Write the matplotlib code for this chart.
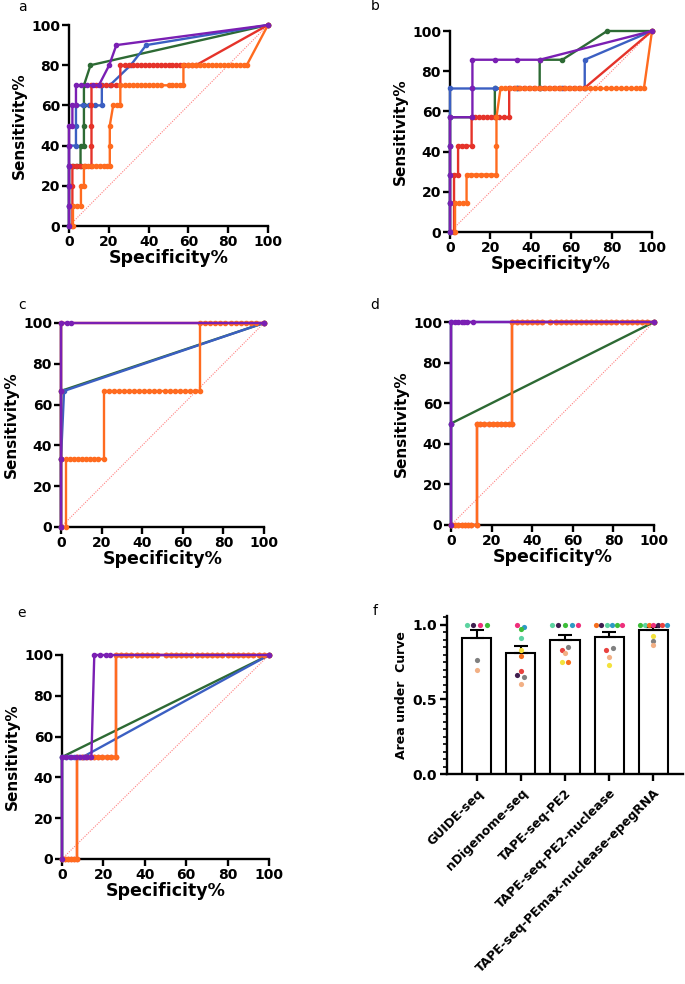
import numpy as np
import matplotlib.pyplot as plt
from matplotlib.ticker import MultipleLocator, FormatStrFormatter

plt.rcParams['font.family'] = ['DejaVu Sans']
plt.rcParams['font.weight'] = 'bold'

# ROC points (specificity %, sensitivity %)
a_green = [(0, 0), (0, 10), (0, 20), (0, 30), (2, 30), (4, 30), (5.8, 30), (5.8, 40), (7.5, 40),
           (7.5, 50), (7.5, 60), (7.5, 70), (10.8, 80), (100, 100)]
a_blue = [(0, 0), (0, 10), (0, 20), (0, 30), (0, 40), (3.5, 40), (3.5, 50), (3.5, 60), (7, 60), (10, 60),
          (13, 60), (16.5, 60), (16.5, 70), (20.5, 70), (31, 80), (38.8, 90), (100, 100)]
a_red = [(1.7, 0), (1.7, 10), (1.7, 20), (1.7, 30), (3.5, 30), (5.5, 30), (8, 30), (11.3, 30), (11.3, 40),
         (11.3, 50), (11.3, 60), (11.3, 70), (13.5, 70), (16, 70), (18.5, 70), (21, 70), (23.5, 70),
         (25.8, 70), (25.8, 80), (28, 80), (30, 80), (32, 80), (34, 80), (36, 80), (38, 80), (40, 80),
         (42, 80), (44, 80), (46, 80), (48, 80), (50, 80), (52, 80), (54, 80), (56, 80), (58, 80),
         (60, 80), (62, 80), (63.8, 80), (100, 100)]
a_orange = [(2, 0), (2, 10), (4, 10), (6, 10), (6, 20), (7.5, 20), (7.5, 30), (9.5, 30), (11.5, 30),
            (13.5, 30), (15.5, 30), (17.5, 30), (19, 30), (20.5, 30), (20.5, 40), (20.5, 50), (22.2, 60),
            (24, 60), (25.8, 60), (25.8, 70), (28, 70), (30, 70), (32, 70), (34, 70), (36, 70), (38, 70),
            (40, 70), (42, 70), (44, 70), (46, 70), (50, 70), (52, 70), (54, 70), (56, 70), (57.5, 70),
            (57.5, 80), (60, 80), (62, 80), (64, 80), (66, 80), (68, 80), (70, 80), (72, 80), (74, 80),
            (76, 80), (78, 80), (80, 80), (82, 80), (84, 80), (86, 80), (88, 80), (89.3, 80), (100, 100)]
a_purple = [(0, 0), (0, 10), (0, 20), (0, 30), (0, 40), (0, 50), (1.7, 50), (1.7, 60), (3.5, 60),
            (3.5, 70), (6, 70), (9, 70), (12, 70), (15, 70), (20.2, 80), (23.8, 90), (100, 100)]

b_green = [(0, 0), (0, 14.3), (0, 28.6), (0, 42.9), (0, 57.1), (11.1, 57.1), (22.2, 57.1), (22.2, 71.4),
           (33.3, 71.4), (44.4, 71.4), (44.4, 85.7), (55.6, 85.7), (77.8, 100), (100, 100)]
b_blue = [(0, 0), (0, 14.3), (0, 28.6), (0, 42.9), (0, 57.1), (0, 71.4), (11.1, 71.4), (22.2, 71.4),
          (33.3, 71.4), (44.4, 71.4), (55.6, 71.4), (66.7, 71.4), (66.7, 85.7), (100, 100)]
b_red = [(2, 0), (2, 14.3), (2, 28.6), (4, 28.6), (4, 42.9), (6, 42.9), (8, 42.9), (10.7, 42.9),
         (10.7, 57.1), (12.5, 57.1), (14.5, 57.1), (16.5, 57.1), (18.5, 57.1), (20.5, 57.1), (22.5, 57.1),
         (24.5, 57.1), (26.5, 57.1), (29.3, 57.1), (29.3, 71.4), (31.5, 71.4), (34, 71.4), (36.5, 71.4),
         (39, 71.4), (41.5, 71.4), (44, 71.4), (46.5, 71.4), (49, 71.4), (51.5, 71.4), (54, 71.4),
         (56.5, 71.4), (59, 71.4), (61.5, 71.4), (64, 71.4), (66.3, 71.4), (100, 100)]
b_orange = [(2.5, 0), (2.5, 14.3), (4.5, 14.3), (6.5, 14.3), (8.2, 14.3), (8.2, 28.6), (10.5, 28.6),
            (13, 28.6), (15.5, 28.6), (18, 28.6), (20.5, 28.6), (23, 28.6), (23, 42.9), (23, 57.1),
            (25, 71.4), (27, 71.4), (29.5, 71.4), (32, 71.4), (34.5, 71.4), (37, 71.4), (39.5, 71.4),
            (42, 71.4), (44.5, 71.4), (47, 71.4), (49.5, 71.4), (52, 71.4), (54.5, 71.4), (57, 71.4),
            (59.5, 71.4), (62, 71.4), (64.5, 71.4), (67, 71.4), (69.5, 71.4), (72, 71.4), (74.5, 71.4),
            (77, 71.4), (79.5, 71.4), (82, 71.4), (84.5, 71.4), (87, 71.4), (89.5, 71.4), (92, 71.4),
            (94, 71.4), (96, 71.4), (100, 100)]
b_purple = [(0, 0), (0, 14.3), (0, 28.6), (0, 42.9), (0, 57.1), (11.1, 57.1), (11.1, 71.4), (11.1, 85.7),
            (22.2, 85.7), (33.3, 85.7), (44.4, 85.7), (100, 100)]

c_green = [(0, 0), (0, 33.3), (0, 66.7), (100, 100)]
c_blue = [(0, 0), (0, 33.3), (1.5, 66.7), (100, 100)]
c_red = [(0, 0), (0, 33.3), (0, 66.7), (0, 100), (100, 100)]
c_orange = [(2.3, 0), (2.3, 33.3), (4.3, 33.3), (6.3, 33.3), (8.3, 33.3), (10.3, 33.3), (12.3, 33.3),
            (14.3, 33.3), (16.3, 33.3), (18.3, 33.3), (21.3, 33.3), (21.3, 66.7), (23.5, 66.7), (26, 66.7),
            (28.5, 66.7), (31, 66.7), (33.5, 66.7), (36, 66.7), (38.5, 66.7), (41, 66.7), (43.5, 66.7),
            (46, 66.7), (48.5, 66.7), (51, 66.7), (53.5, 66.7), (56, 66.7), (58.5, 66.7), (61, 66.7),
            (63.5, 66.7), (66, 66.7), (68.4, 66.7), (68.4, 100), (71, 100), (73.5, 100), (76, 100),
            (78.5, 100), (81, 100), (83.5, 100), (86, 100), (88.5, 100), (91, 100), (93.5, 100),
            (96, 100), (100, 100)]
c_purple = [(0, 0), (0, 33.3), (0, 66.7), (0, 100), (2.8, 100), (4.9, 100), (100, 100)]

d_green = [(0, 0), (0, 50), (100, 100)]
d_blue = [(0, 0), (0, 50), (0, 100), (100, 100)]
d_orange = [(0, 0), (2, 0), (3.6, 0), (5.2, 0), (6.8, 0), (8.4, 0), (10, 0), (12.6, 0), (12.6, 50),
            (14.5, 50), (16.5, 50), (18.5, 50), (20.5, 50), (22.5, 50), (24.5, 50), (26.5, 50), (28.5, 50),
            (30.2, 50), (30.2, 100), (32.5, 100), (35, 100), (37.5, 100), (40, 100), (42.5, 100), (45, 100),
            (49, 100), (51.5, 100), (54, 100), (56.5, 100), (59, 100), (61.5, 100), (64, 100), (66.5, 100),
            (69, 100), (71.5, 100), (74, 100), (76.5, 100), (79, 100), (81.5, 100), (84, 100), (86.5, 100),
            (89, 100), (91.5, 100), (94, 100), (96.5, 100), (100, 100)]
d_red = d_orange
d_purple = [(0, 0), (0, 50), (0, 100), (2, 100), (3.6, 100), (5.2, 100), (6.6, 100), (7.7, 100),
            (11, 100), (100, 100)]

e_green = [(0, 0), (0, 50), (100, 100)]
e_blue = [(0, 0), (0, 50), (2, 50), (4, 50), (6, 50), (8, 50), (10, 50), (100, 100)]
e_orange = [(0, 0), (1.5, 0), (3, 0), (4.5, 0), (6, 0), (7.4, 0), (7.4, 50), (9.5, 50), (11.5, 50),
            (13.5, 50), (15.5, 50), (17.5, 50), (19.5, 50), (21.5, 50), (23.5, 50), (26.3, 50),
            (26.3, 100), (28.5, 100), (31, 100), (33.5, 100), (36, 100), (38.5, 100), (41, 100),
            (43.5, 100), (46, 100), (50, 100), (52.5, 100), (55, 100), (57.5, 100), (60, 100), (62.5, 100),
            (65, 100), (67.5, 100), (70, 100), (72.5, 100), (75, 100), (77.5, 100), (80, 100), (82.5, 100),
            (85, 100), (87.5, 100), (90, 100), (92.5, 100), (95, 100), (97.5, 100), (100, 100)]
e_red = e_orange
e_purple = [(0, 0), (0, 50), (2.1, 50), (4.5, 50), (6.6, 50), (8.5, 50), (10.5, 50), (12.3, 50),
            (14.2, 50), (15.6, 100), (18.2, 100), (21.1, 100), (23.1, 100), (100, 100)]

# AUC per method (panel f)
methods = ['GUIDE-seq', 'nDigenome-seq', 'TAPE-seq-PE2', 'TAPE-seq-PE2-nuclease',
           'TAPE-seq-PEmax-nuclease-epegRNA']
auc_guide = [1.0, 1.0, 1.0, 1.0, 0.763, 0.696]
col_guide = ['mint', 'dpurple', 'pink', 'green', 'gray', 'peach']
auc_ndig = [1.0, 0.975, 0.984, 0.913, 0.834, 0.79, 0.694, 0.667, 0.651, 0.606]
col_ndig = ['pink', 'green', 'blue', 'mint', 'yellow', 'orange', 'red', 'dpurple', 'gray', 'peach']
auc_pe2 = [1.0, 1.0, 1.0, 1.0, 1.0, 0.834, 0.852, 0.812, 0.752, 0.752]
col_pe2 = ['mint', 'dpurple', 'green', 'blue', 'pink', 'red', 'gray', 'peach', 'yellow', 'orange']
auc_nuc = [1.0, 1.0, 1.0, 1.0, 1.0, 1.0, 0.83, 0.846, 0.787, 0.729]
col_nuc = ['orange', 'dpurple', 'mint', 'blue', 'green', 'pink', 'red', 'gray', 'peach', 'yellow']
auc_pemax = [1.0, 1.0, 1.0, 1.0, 1.0, 1.0, 1.0, 0.924, 0.895, 0.866]
col_pemax = ['green', 'mint', 'orange', 'pink', 'dpurple', 'red', 'blue', 'yellow', 'gray', 'peach']

PURPLE = '#7A1FB3'
BLUE = '#3B5FC2'
GREEN = '#2D6A34'
RED = '#E5332A'
ORANGE = '#FF6B1F'
DIAG = '#FF8080'
DOT = {'mint': '#5CD3A0', 'dpurple': '#3F1E4E', 'pink': '#EE2F7B', 'green': '#3DBE3A',
       'gray': '#808080', 'peach': '#F2B085', 'red': '#E8423F', 'yellow': '#F3E23C',
       'orange': '#F66F1D', 'blue': '#2F9AC4'}

W, H = 685, 984
fig = plt.figure(figsize=(W / 100, H / 100), dpi=100)


def px_axes(l, t, r, b):
    return fig.add_axes([l / W, 1 - b / H, (r - l) / W, (b - t) / H])


def roc_panel(box, curves):
    ax = px_axes(*box)
    ax.plot([0, 100], [0, 100], ls=(0, (1, 1.2)), color=DIAG, lw=0.8, zorder=1)
    for pts, c in curves:
        x = [p[0] for p in pts]
        y = [p[1] for p in pts]
        ax.plot(x, y, color=c, lw=1.7, marker='o', ms=3.0, clip_on=False, zorder=3)
    ax.set_xlim(0, 100)
    ax.set_ylim(0, 100)
    ax.set_xticks(range(0, 101, 20))
    ax.set_yticks(range(0, 101, 20))
    for s in ['top', 'right']:
        ax.spines[s].set_visible(False)
    for s in ['left', 'bottom']:
        ax.spines[s].set_linewidth(1.7)
    ax.tick_params(width=1.7, length=5, labelsize=10, pad=1.5)
    ax.set_xlabel('Specificity%', fontsize=12.5, fontweight='bold', labelpad=0)
    ax.set_ylabel('Sensitivity%', fontsize=11, fontweight='bold', labelpad=3)
    return ax


roc_panel((69, 25, 268, 226), [(a_green, GREEN), (a_blue, BLUE), (a_red, RED), (a_orange, ORANGE), (a_purple, PURPLE)])
roc_panel((450, 31, 652, 232), [(b_green, GREEN), (b_blue, BLUE), (b_red, RED), (b_orange, ORANGE), (b_purple, PURPLE)])
roc_panel((61, 323, 264, 527), [(c_green, GREEN), (c_blue, BLUE), (c_red, RED), (c_orange, ORANGE), (c_purple, PURPLE)])
roc_panel((451, 322, 654, 525), [(d_green, GREEN), (d_blue, BLUE), (d_red, RED), (d_orange, ORANGE), (d_purple, PURPLE)])
roc_panel((62, 655, 269, 859), [(e_green, GREEN), (e_blue, BLUE), (e_red, RED), (e_orange, ORANGE), (e_purple, PURPLE)])

# panel f
ax = px_axes(447, 616, 683, 774)
groups = [(auc_guide, col_guide), (auc_ndig, col_ndig), (auc_pe2, col_pe2), (auc_nuc, col_nuc),
          (auc_pemax, col_pemax)]
xs = np.arange(len(methods))
means = np.array([np.mean(v) for v, _ in groups])
sems = np.array([np.std(v, ddof=1) / np.sqrt(len(v)) for v, _ in groups])
ax.bar(xs, means, width=0.66, color='white', edgecolor='black', linewidth=1.5, zorder=2)
ax.errorbar(xs, means, yerr=[np.zeros_like(sems), sems], fmt='none', ecolor='black',
            elinewidth=1.5, capsize=5, capthick=1.5, zorder=3)

# simple swarm: points with nearly equal values are spread side by side
for i, (vals, cols) in enumerate(groups):
    clusters = []
    for v, c in zip(vals, cols):
        for cl in clusters:
            if abs(cl[-1][0] - v) < 0.025:
                cl.append((v, c))
                break
        else:
            clusters.append([(v, c)])
    for cl in clusters:
        n = len(cl)
        step = min(0.15, 0.6 / max(n - 1, 1))
        for k, (v, c) in enumerate(cl):
            ax.scatter(i + (k - (n - 1) / 2) * step, v, s=14, color=DOT[c], lw=0, zorder=4, clip_on=False)

ax.set_xlim(-0.67, 4.67)
ax.set_ylim(0, 1.06)
ax.set_yticks([0, 0.5, 1.0])
ax.yaxis.set_major_formatter(FormatStrFormatter('%.1f'))
ax.yaxis.set_minor_locator(MultipleLocator(0.05))
ax.set_xticks(xs)
ax.set_xticklabels(methods, rotation=45, ha='right', rotation_mode='anchor', fontweight='bold')
for s in ['top', 'right']:
    ax.spines[s].set_visible(False)
for s in ['left', 'bottom']:
    ax.spines[s].set_linewidth(1.7)
ax.tick_params(width=1.7, length=5)
ax.tick_params(axis='y', labelsize=10, pad=2)
ax.tick_params(axis='x', labelsize=9.0, pad=4)
ax.tick_params(which='minor', width=1.2, length=3)
ax.set_ylabel('Area under  Curve', fontsize=9, fontweight='bold', labelpad=3)

for letter, x, y in [('a', 22, 7), ('b', 375, 6), ('c', 22, 305), ('d', 375, 305), ('e', 22, 613), ('f', 375, 611)]:
    fig.text(x / W, 1 - y / H, letter, fontsize=10, fontweight='normal', ha='center', va='center')

fig.savefig('out.png', dpi=100)
